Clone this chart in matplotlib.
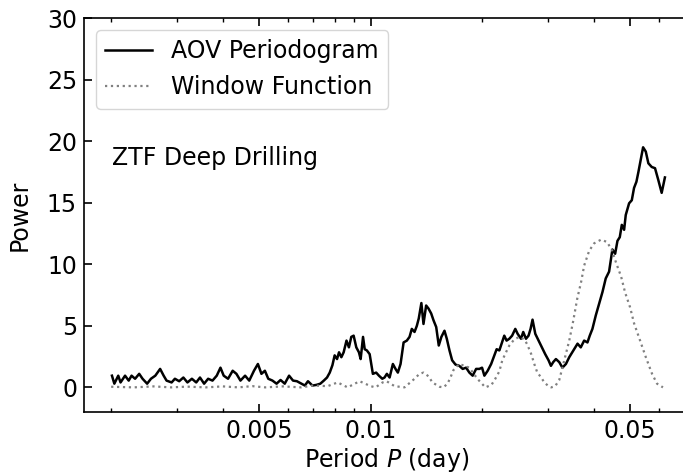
import numpy as np
import matplotlib
matplotlib.use('Agg')
import matplotlib.pyplot as plt
from matplotlib.ticker import FixedLocator, LogLocator, NullFormatter

# AOV periodogram (period in days, power)
aov_period = [
    0.00201, 0.00204, 0.00209, 0.00212, 0.00218, 0.00223, 0.00227, 0.00232,
    0.00238, 0.00243, 0.00250, 0.00256, 0.00263, 0.00271, 0.00277, 0.00282,
    0.00291, 0.00297, 0.00305, 0.00313, 0.00321, 0.00330, 0.00339, 0.00347,
    0.00356, 0.00365, 0.00375, 0.00385, 0.00394, 0.00402, 0.00413, 0.00425,
    0.00435, 0.00446, 0.00459, 0.00471, 0.00485, 0.00497, 0.00508, 0.00519,
    0.00530, 0.00544, 0.00558, 0.00572, 0.00587, 0.00603, 0.00618, 0.00633,
    0.00651, 0.00665, 0.00678, 0.00697, 0.00714, 0.00732, 0.00748, 0.00763,
    0.00776, 0.00789, 0.00800, 0.00812, 0.00822, 0.00834, 0.00846, 0.00861,
    0.00874, 0.00887, 0.00900, 0.00915, 0.00930, 0.00940, 0.00954, 0.00964,
    0.00977, 0.00994, 0.01004, 0.01014, 0.01035, 0.01053, 0.01075, 0.01090,
    0.01106, 0.01125, 0.01148, 0.01167, 0.01184, 0.01204, 0.01227, 0.01252,
    0.01273, 0.01291, 0.01313, 0.01332, 0.01348, 0.01370, 0.01388, 0.01411,
    0.01432, 0.01456, 0.01477, 0.01502, 0.01526, 0.01551, 0.01581, 0.01604,
    0.01631, 0.01658, 0.01693, 0.01733, 0.01770, 0.01808, 0.01845, 0.01883,
    0.01924, 0.01963, 0.01996, 0.02025, 0.02067, 0.02112, 0.02154, 0.02185,
    0.02222, 0.02259, 0.02291, 0.02324, 0.02364, 0.02405, 0.02453, 0.02489,
    0.02542, 0.02577, 0.02621, 0.02663, 0.02697, 0.02730, 0.02777, 0.02835,
    0.02895, 0.02953, 0.03015, 0.03060, 0.03103, 0.03156, 0.03222, 0.03286,
    0.03358, 0.03428, 0.03535, 0.03609, 0.03682, 0.03760, 0.03838, 0.03893,
    0.03958, 0.04042, 0.04127, 0.04213, 0.04299, 0.04389, 0.04480, 0.04557,
    0.04623, 0.04690, 0.04749, 0.04818, 0.04867, 0.04969, 0.05053, 0.05124,
    0.05200, 0.05265, 0.05343, 0.05420, 0.05511, 0.05600, 0.05718, 0.05836,
    0.05955, 0.06082, 0.06205,
]
aov_power = [
    0.95, 0.30, 0.95, 0.40, 0.95, 0.55, 0.95, 0.70,
    1.10, 0.70, 0.30, 0.70, 0.95, 1.50, 0.95, 0.55,
    0.40, 0.70, 0.50, 0.80, 0.40, 0.70, 0.40, 0.80,
    0.30, 0.70, 0.55, 0.95, 1.60, 0.95, 0.70, 1.35,
    1.10, 0.55, 0.95, 0.55, 1.35, 1.90, 1.10, 1.35,
    0.70, 0.55, 0.30, 0.60, 0.30, 0.95, 0.55, 0.50,
    0.30, 0.15, 0.50, 0.15, 0.20, 0.30, 0.55, 0.80,
    1.20, 1.80, 2.60, 2.30, 2.85, 2.45, 2.85, 3.80,
    3.25, 4.10, 4.20, 3.25, 2.85, 2.30, 4.10, 3.10,
    3.00, 2.70, 1.90, 1.10, 1.20, 0.95, 0.70, 0.80,
    1.10, 0.80, 1.90, 1.50, 1.20, 1.90, 3.65, 3.80,
    4.10, 4.75, 4.50, 5.00, 5.60, 6.85, 5.15, 6.65,
    6.40, 6.00, 5.45, 4.90, 3.40, 4.10, 4.60, 3.95,
    3.00, 2.20, 1.85, 1.75, 1.50, 1.60, 1.20, 0.95,
    1.50, 1.50, 1.60, 0.95, 1.35, 1.90, 2.60, 3.10,
    3.00, 3.65, 4.20, 3.80, 3.95, 4.20, 4.75, 4.35,
    3.95, 4.50, 3.95, 4.20, 4.75, 5.50, 4.35, 3.80,
    3.25, 2.70, 2.20, 1.75, 2.05, 2.30, 2.05, 1.60,
    1.90, 2.45, 3.10, 3.55, 3.25, 3.80, 3.65, 4.20,
    4.75, 5.85, 6.80, 7.75, 8.85, 9.40, 11.20, 10.85,
    11.90, 12.20, 13.20, 12.80, 14.00, 14.95, 15.20, 16.20,
    16.70, 17.50, 18.50, 19.50, 19.15, 18.20, 17.90, 17.80,
    16.85, 15.80, 17.05,
]

# window function (period in days, power)
win_period = [
    0.0020, 0.0023, 0.0026, 0.0029, 0.0032, 0.0036, 0.0040, 0.0044,
    0.0048, 0.0052, 0.0058, 0.0065, 0.0070, 0.00766, 0.00815, 0.00867,
    0.00934, 0.0100, 0.01031, 0.01077, 0.01104, 0.01160, 0.01234, 0.01313,
    0.01354, 0.01388, 0.01432, 0.01467, 0.01533, 0.01571, 0.01611, 0.01641,
    0.01671, 0.01733, 0.01845, 0.01939, 0.02037, 0.02116, 0.02167, 0.02222,
    0.02263, 0.02320, 0.02364, 0.02438, 0.02516, 0.02594, 0.02641, 0.02708,
    0.02760, 0.02812, 0.02882, 0.02936, 0.03028, 0.03066, 0.03142, 0.03222,
    0.03324, 0.03428, 0.03514, 0.03602, 0.03692, 0.03761, 0.03880, 0.04001,
    0.04178, 0.04337, 0.04473, 0.04586, 0.04729, 0.04848, 0.05000, 0.05125,
    0.05320, 0.05520, 0.05730, 0.05910, 0.06130,
]
win_power = [
    0.05, 0.00, 0.08, 0.00, 0.06, 0.00, 0.08, 0.00,
    0.10, 0.00, 0.08, 0.00, 0.15, 0.10, 0.40, 0.00,
    0.50, 0.10, 0.00, 0.40, 0.50, 0.10, 0.00, 0.70,
    1.10, 1.20, 0.90, 0.40, 0.05, 0.00, 0.30, 0.80,
    1.40, 1.90, 1.60, 0.70, 0.00, 0.20, 0.70, 1.30,
    2.20, 2.90, 3.40, 3.90, 4.10, 3.90, 3.50, 2.70,
    1.90, 1.20, 0.80, 0.40, 0.05, 0.00, 0.10, 0.60,
    2.20, 3.80, 5.40, 7.20, 8.60, 9.90, 11.10, 11.70,
    12.00, 11.80, 11.10, 10.10, 9.00, 7.70, 6.50, 5.20,
    3.80, 2.40, 1.10, 0.30, 0.00,
]

x_major = [0.005, 0.01, 0.05]
x_major_labels = ['0.005', '0.01', '0.05']
y_ticks = [0, 5, 10, 15, 20, 25, 30]

plt.rcParams['font.family'] = 'DejaVu Sans'
plt.rcParams['font.size'] = 17

fig = plt.figure(figsize=(6.83, 4.74), dpi=100)
# right spine falls just outside the canvas, as in the cropped original
ax = fig.add_axes([84 / 683, 62 / 474, 606 / 683, 394 / 474])

ax.plot(aov_period, aov_power, '-', color='black', lw=1.8,
        label='AOV Periodogram')
ax.plot(win_period, win_power, ':', color='grey', lw=1.6,
        label='Window Function')

ax.set_xscale('log')
ax.set_xlim(0.00169, 0.0725)
ax.set_ylim(-2, 30)
ax.xaxis.set_major_locator(FixedLocator(x_major))
ax.set_xticklabels(x_major_labels)
ax.xaxis.set_minor_locator(LogLocator(base=10, subs=np.arange(2, 10)))
ax.xaxis.set_minor_formatter(NullFormatter())
ax.set_yticks(y_ticks)

ax.tick_params(which='both', direction='in', top=True, right=False)
ax.tick_params(which='major', length=6, width=1.2, labelsize=17, pad=5)
ax.tick_params(which='minor', length=3, width=1.0)
for sp in ax.spines.values():
    sp.set_linewidth(1.2)

ax.set_xlabel('Period $P$ (day)', labelpad=2)
ax.set_ylabel('Power', labelpad=11)
ax.text(0.046, 0.645, 'ZTF Deep Drilling', transform=ax.transAxes,
        va='center', ha='left')
ax.legend(loc='upper left', fontsize=17)

fig.savefig('out.png', dpi=100)
